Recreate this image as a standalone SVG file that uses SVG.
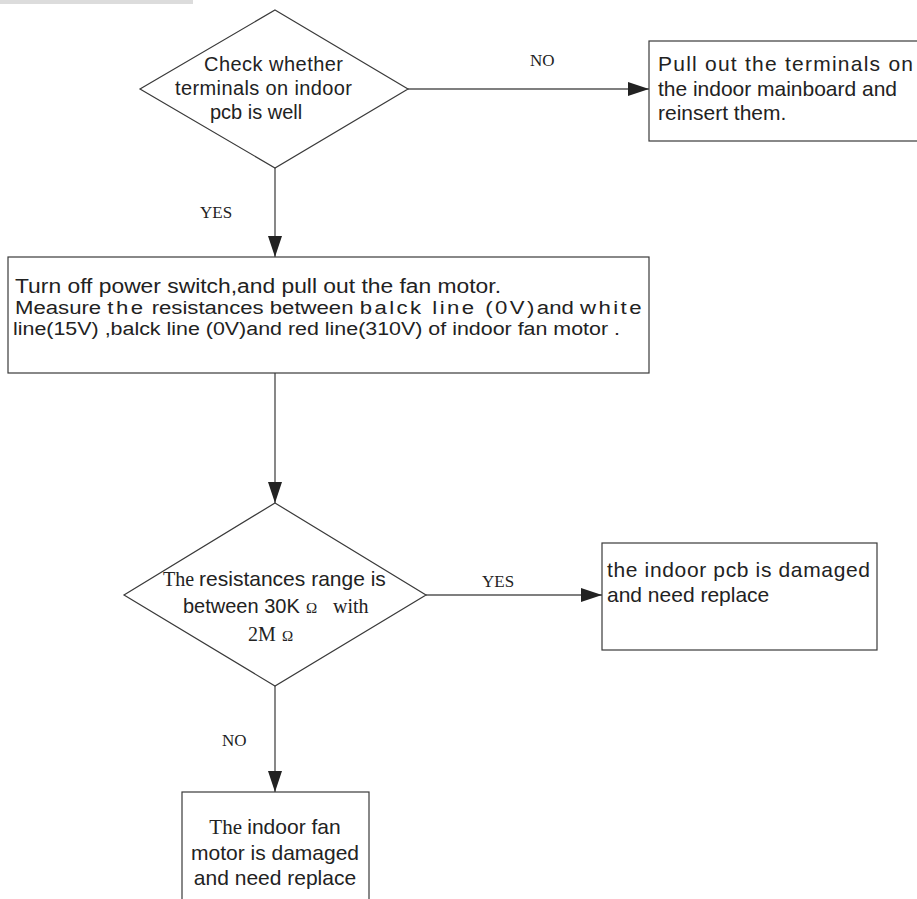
<svg xmlns="http://www.w3.org/2000/svg" width="917" height="899" viewBox="0 0 917 899">
<style>
.shape{fill:#fff;stroke:#3a3a3a;stroke-width:1.2}
.conn{stroke:#555;stroke-width:1.4;fill:none}
.sans{font-family:"Liberation Sans",Arial,sans-serif;fill:#222}
.serif{font-family:"Liberation Serif","Times New Roman",serif;fill:#222}
.sp{letter-spacing:2px}
</style>
<defs>
<marker id="arr" markerUnits="userSpaceOnUse" markerWidth="22" markerHeight="14" refX="21" refY="7" orient="auto">
<path d="M0,0 L21,7 L0,14 z" fill="#222"/>
</marker>
</defs>
<rect x="0" y="0" width="193" height="4" fill="#dcdcdc"/>
<g id="connectors">
<line class="conn" x1="408" y1="89" x2="649" y2="89" marker-end="url(#arr)"/>
<line class="conn" x1="275" y1="168" x2="275" y2="257" marker-end="url(#arr)"/>
<line class="conn" x1="275" y1="373" x2="275" y2="503" marker-end="url(#arr)"/>
<line class="conn" x1="426" y1="595" x2="602" y2="595" marker-end="url(#arr)"/>
<line class="conn" x1="275" y1="686" x2="275" y2="792" marker-end="url(#arr)"/>
<text class="serif" x="530" y="66" font-size="17">NO</text>
<text class="serif" x="200" y="218" font-size="17">YES</text>
<text class="serif" x="482" y="587" font-size="17">YES</text>
<text class="serif" x="222" y="746" font-size="17">NO</text>
</g>
<g id="check-terminals">
<polygon class="shape" points="275,10 408,89 275,168 140,89"/>
<text class="sans" font-size="20"><tspan x="204" y="71" textLength="139">Check whether</tspan><tspan x="175" y="95" textLength="177">terminals on indoor</tspan><tspan x="210" y="119">pcb is well</tspan></text>
</g>
<g id="reinsert">
<rect class="shape" x="649" y="41" width="290" height="100"/>
<text class="sans" font-size="21"><tspan x="658" y="71" textLength="255">Pull out the terminals  on</tspan><tspan x="658" y="96" textLength="239">the indoor mainboard and</tspan><tspan x="658" y="120">reinsert them.</tspan></text>
</g>
<g id="measure">
<rect class="shape" x="8" y="257" width="641" height="116"/>
<text class="sans" font-size="20" x="15" y="293" textLength="486" lengthAdjust="spacingAndGlyphs">Turn off power switch,and pull out the fan motor.</text>
<text class="sans" font-size="18" x="15" y="314" textLength="629" lengthAdjust="spacingAndGlyphs">Measure <tspan class="sp">the</tspan> resistances between  <tspan class="sp">balck line (0V)</tspan>and <tspan class="sp">white</tspan></text>
<text class="sans" font-size="18" x="13" y="335" textLength="607" lengthAdjust="spacingAndGlyphs">line(15V) ,balck line (0V)and red line(310V) of indoor fan motor  .</text>
</g>
<g id="resistance-range">
<polygon class="shape" points="275,503 426,595 275,686 124,595"/>
<text font-size="20"><tspan class="serif" x="163" y="586">The </tspan><tspan class="sans" font-size="21">resistances range is</tspan></text>
<text font-size="20"><tspan class="sans" x="183" y="613">between 30K</tspan><tspan class="serif" font-size="15" x="306">Ω</tspan><tspan class="serif" x="333">with</tspan></text>
<text class="serif" font-size="20" x="248" y="641">2M<tspan font-size="15" x="282">Ω</tspan></text>
</g>
<g id="pcb-damaged">
<rect class="shape" x="602" y="543" width="275" height="107"/>
<text class="sans" font-size="21"><tspan x="607" y="577" textLength="263">the indoor pcb is damaged</tspan><tspan x="607" y="602">and need replace</tspan></text>
</g>
<g id="motor-damaged">
<rect class="shape" x="182" y="792" width="187" height="130"/>
<text font-size="21" text-anchor="middle"><tspan class="serif" x="275" y="834">The </tspan><tspan class="sans">indoor fan</tspan></text>
<text class="sans" font-size="21" text-anchor="middle" x="275" y="860">motor is damaged</text>
<text class="sans" font-size="21" text-anchor="middle" x="275" y="885">and need replace</text>
</g>
</svg>
